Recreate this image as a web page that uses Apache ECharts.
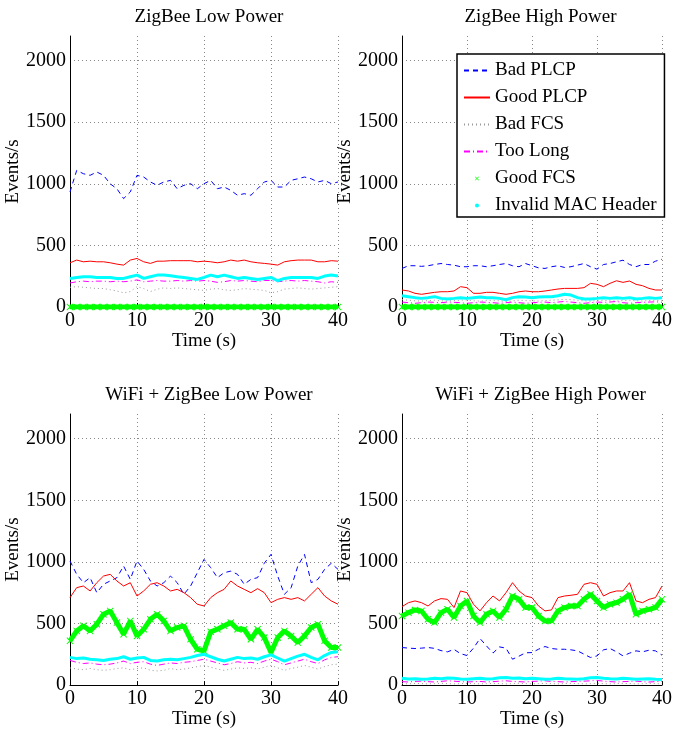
<!DOCTYPE html>
<html lang="en">
<head>
    <meta charset="utf-8">
    <title>Events per second</title>
    <script src="https://cdn.jsdelivr.net/npm/echarts@6/dist/echarts.min.js"></script>
    <style>
        html, body { margin: 0; padding: 0; background: #fff; }
        #chart { width: 675px; height: 730px; }
    </style>
</head>
<body>
    <div id="chart"></div>
    <script>
        // time axis (s)
        const time = [0,1,2,3,4,5,6,7,8,9,10,11,12,13,14,15,16,17,18,19,20,
                      21,22,23,24,25,26,27,28,29,30,31,32,33,34,35,36,37,38,39,40];

        const seriesNames = ['Bad PLCP', 'Good PLCP', 'Bad FCS', 'Too Long', 'Good FCS', 'Invalid MAC Header'];
        const panelTitles = ['ZigBee Low Power', 'ZigBee High Power', 'WiFi + ZigBee Low Power', 'WiFi + ZigBee High Power'];
        const yTicks = [0, 500, 1000, 1500, 2000];
        const xTicks = [0, 10, 20, 30, 40];

        // ZigBee Low Power
        const zlBadPlcp = [934,1109,1082,1069,1096,1069,1000,960,880,934,1069,1055,1015,988,1015,1028,960,988,1001,960,1001,1028,960,974,947,907,920,907,960,1015,1028,974,974,1028,1041,1055,1041,1015,1028,1001,1015];
        const zlGoodPlcp = [359,381,367,372,367,367,359,348,340,381,394,367,354,372,372,376,376,376,376,367,372,367,359,367,381,372,381,367,359,354,348,340,367,376,381,381,381,367,367,376,372];
        const zlBadFcs = [160,165,160,155,150,150,140,130,115,125,165,150,125,145,155,150,155,150,145,140,135,145,150,140,135,140,150,145,140,135,115,125,145,150,155,150,145,150,155,160,165];
        const zlTooLong = [195,205,210,205,210,210,205,210,205,210,220,205,210,215,210,210,215,210,215,210,215,210,200,205,215,210,215,210,205,215,215,205,210,215,210,215,210,205,195,205,200];
        const zlGoodFcs = [0,0,0,0,0,0,0,0,0,0,0,0,0,0,0,0,0,0,0,0,0,0,0,0,0,0,0,0,0,0,0,0,0,0,0,0,0,0,0,0,0];
        const zlInvalidMac = [232,240,246,246,240,240,240,232,232,246,259,232,246,259,259,254,246,240,232,224,240,259,246,259,246,232,240,232,224,232,240,213,232,240,240,240,240,232,251,259,251];

        // ZigBee High Power
        const zhBadPlcp = [313,335,335,330,335,345,353,345,340,327,327,335,335,327,335,345,353,335,327,353,335,318,313,327,335,321,327,340,353,327,307,345,353,367,380,345,327,345,345,372,388];
        const zhGoodPlcp = [138,130,111,103,111,119,124,124,130,165,157,111,111,119,119,111,103,111,124,130,124,124,130,138,146,151,151,151,157,192,184,165,192,213,200,211,184,173,151,138,138];
        const zhBadFcs = [60,55,50,48,52,55,50,48,52,55,58,50,48,52,55,50,45,50,55,52,50,48,52,55,58,62,60,55,50,48,52,55,50,48,52,55,50,48,52,55,50];
        const zhTooLong = [40,35,30,35,40,38,35,40,38,35,30,35,40,38,35,30,35,40,35,30,35,38,40,35,40,45,40,35,30,35,40,38,40,45,35,30,35,38,40,42,38];
        const zhGoodFcs = [0,0,0,0,0,0,0,0,0,0,0,0,0,0,0,0,0,0,0,0,0,0,0,0,0,0,0,0,0,0,0,0,0,0,0,0,0,0,0,0,0];
        const zhInvalidMac = [92,84,76,70,76,84,70,65,70,76,70,76,81,76,76,70,59,76,84,81,76,81,84,84,92,103,97,76,65,65,70,76,70,76,70,76,65,70,76,70,76];

        // WiFi + ZigBee Low Power
        const wlBadPlcp = [1007,899,831,872,750,818,845,872,966,858,1007,939,845,804,831,885,831,737,804,912,1020,953,872,912,925,899,818,858,872,989,1061,885,737,790,966,1061,831,858,939,989,939];
        const wlGoodPlcp = [710,791,804,764,831,885,899,845,804,831,723,764,818,831,804,764,777,750,710,656,642,710,750,777,845,804,777,750,783,750,669,696,710,696,710,683,737,791,723,683,656];
        const wlBadFcs = [140,130,125,135,125,120,125,135,140,125,135,140,120,115,120,135,125,130,140,150,160,145,130,120,130,140,135,140,130,145,160,140,120,135,145,160,145,130,150,165,170];
        const wlTooLong = [200,185,175,180,170,165,170,180,195,175,185,190,170,160,170,180,175,185,190,200,210,195,180,165,175,190,180,185,175,195,210,190,165,180,195,210,190,175,205,225,230];
        const wlGoodFcs = [359,440,481,440,494,575,602,507,413,521,399,453,534,575,521,440,467,481,372,291,278,432,453,481,507,453,453,372,453,386,264,386,440,399,345,399,467,494,359,305,305];
        const wlInvalidMac = [225,215,220,210,205,200,210,215,230,210,220,225,200,195,205,210,205,215,225,240,250,230,210,195,210,225,215,220,210,230,245,220,195,215,235,250,225,205,240,265,270];

        // WiFi + ZigBee High Power
        const whBadPlcp = [305,300,297,300,305,298,280,270,290,255,240,300,378,318,260,310,300,210,235,262,264,291,313,297,291,291,286,278,251,224,237,286,297,270,237,259,278,270,283,278,243];
        const whGoodPlcp = [637,669,683,669,642,683,702,696,629,764,750,656,602,669,723,683,750,831,764,723,710,642,602,610,710,723,729,737,818,831,818,723,750,764,764,831,683,669,696,710,804];
        const whBadFcs = [12,10,14,12,10,12,15,12,10,12,14,12,10,12,14,12,10,12,15,12,10,12,14,12,10,12,14,12,10,12,15,12,10,12,14,12,10,12,14,12,10];
        const whTooLong = [28,25,30,32,28,25,30,35,32,28,25,28,30,25,28,32,35,30,28,25,30,32,35,30,28,25,28,30,32,35,38,32,28,25,28,30,32,28,25,28,30];
        const whGoodFcs = [561,588,610,602,534,507,588,615,548,642,683,561,507,575,602,548,615,723,696,629,629,561,520,520,602,629,642,642,696,737,683,629,656,669,696,737,575,602,615,629,696];
        const whInvalidMac = [55,50,52,48,50,55,52,58,55,50,48,52,55,50,52,60,62,55,58,52,55,52,48,50,55,52,50,48,52,60,62,55,52,50,55,52,48,50,52,48,45];

        const panels = [
            [zlBadPlcp, zlGoodPlcp, zlBadFcs, zlTooLong, zlGoodFcs, zlInvalidMac],
            [zhBadPlcp, zhGoodPlcp, zhBadFcs, zhTooLong, zhGoodFcs, zhInvalidMac],
            [wlBadPlcp, wlGoodPlcp, wlBadFcs, wlTooLong, wlGoodFcs, wlInvalidMac],
            [whBadPlcp, whGoodPlcp, whBadFcs, whTooLong, whGoodFcs, whInvalidMac]
        ];

        const lineStyles = [
            { color: '#0000ff', width: 1, type: [5, 4] },
            { color: '#ff0000', width: 1, type: 'solid' },
            { color: '#999999', width: 1, type: [1, 3] },
            { color: '#ff00ff', width: 1, type: [6, 3, 1, 3] },
            { color: '#00ff00', width: 5, type: 'solid' },
            { color: '#00ffff', width: 3, type: 'solid' }
        ];

        const xIcon = 'path://M0,1L1,0L5,4L9,0L10,1L6,5L10,9L9,10L5,6L1,10L0,9L4,5Z';

        const font = 'Liberation Serif';
        const grids = [
            { left: 70, top: 36, width: 268, height: 271 },
            { left: 402, top: 36, width: 267, height: 271 },
            { left: 70, top: 414, width: 268, height: 272 },
            { left: 402, top: 414, width: 267, height: 272 }
        ];

        const chart = echarts.init(document.getElementById('chart'), null, { renderer: 'canvas' });

        const titles = grids.map((g, i) => ({
            text: panelTitles[i],
            left: g.left + g.width / 2,
            top: g.top - 33,
            textAlign: 'center',
            textStyle: { fontFamily: font, fontSize: 19, fontWeight: 'normal', color: '#000' }
        }));

        const gridLine = { show: true, lineStyle: { color: '#888', type: [1, 3], width: 1 } };
        const tickFont = { fontFamily: font, fontSize: 20, color: '#000' };

        // tick labels go through rich text so the serif font and size stick
        const xAxes = grids.map((g, i) => ({
            gridIndex: i,
            type: 'value',
            min: 0, max: 40, interval: 10,
            name: 'Time (s)',
            nameLocation: 'middle',
            nameGap: 23,
            nameTextStyle: { fontFamily: font, fontSize: 19, color: '#000' },
            axisLine: { lineStyle: { color: '#000', width: 1 } },
            axisTick: { inside: true, length: 4, lineStyle: { color: '#000' } },
            axisLabel: Object.assign({
                margin: 4,
                formatter: v => (xTicks.indexOf(v) >= 0 ? '{t|' + v + '}' : ''),
                rich: { t: tickFont }
            }, tickFont),
            splitLine: Object.assign({ showMinLine: false }, gridLine)
        }));

        const yAxes = grids.map((g, i) => ({
            gridIndex: i,
            type: 'value',
            min: 0, max: 2200, interval: 500,
            name: 'Events/s',
            nameLocation: 'middle',
            nameGap: 47,
            nameTextStyle: { fontFamily: font, fontSize: 19, color: '#000' },
            axisLine: { show: true, lineStyle: { color: '#000', width: 1 } },
            axisTick: { show: false },
            axisLabel: Object.assign({
                margin: 4,
                showMaxLabel: false,
                formatter: v => (yTicks.indexOf(v) >= 0 ? '{t|' + v + '}' : ''),
                rich: { t: tickFont }
            }, tickFont),
            splitLine: Object.assign({ showMinLine: false, showMaxLine: false }, gridLine)
        }));

        const series = [];
        panels.forEach((panel, p) => {
            panel.forEach((values, k) => {
                const isGoodFcs = k === 4;
                series.push({
                    name: seriesNames[k],
                    type: 'line',
                    xAxisIndex: p,
                    yAxisIndex: p,
                    data: time.map((t, i) => [t, values[i]]),
                    symbol: isGoodFcs ? xIcon : 'none',
                    symbolSize: 7,
                    showSymbol: isGoodFcs,
                    lineStyle: lineStyles[k],
                    itemStyle: { color: lineStyles[k].color },
                    z: 2 + k,
                    silent: true,
                    animation: false
                });
            });
        });

        const hiddenDot = { opacity: 0 };

        const option = {
            backgroundColor: '#fff',
            animation: false,
            textStyle: tickFont,
            title: titles,
            grid: grids,
            xAxis: xAxes,
            yAxis: yAxes,
            legend: {
                orient: 'vertical',
                left: 457,
                top: 54,
                padding: [7, 8, 2, 6],
                itemGap: 8,
                itemWidth: 26,
                itemHeight: 4,
                selectedMode: false,
                backgroundColor: '#fff',
                borderColor: '#000',
                borderWidth: 1.5,
                textStyle: { fontFamily: font, fontSize: 19, color: '#000' },
                data: [
                    { name: 'Bad PLCP', itemStyle: hiddenDot },
                    { name: 'Good PLCP', itemStyle: hiddenDot },
                    { name: 'Bad FCS', itemStyle: hiddenDot },
                    { name: 'Too Long', itemStyle: hiddenDot },
                    { name: 'Good FCS', icon: xIcon },
                    { name: 'Invalid MAC Header', icon: 'circle' }
                ]
            },
            series: series
        };

        chart.setOption(option);
    </script>
</body>
</html>
